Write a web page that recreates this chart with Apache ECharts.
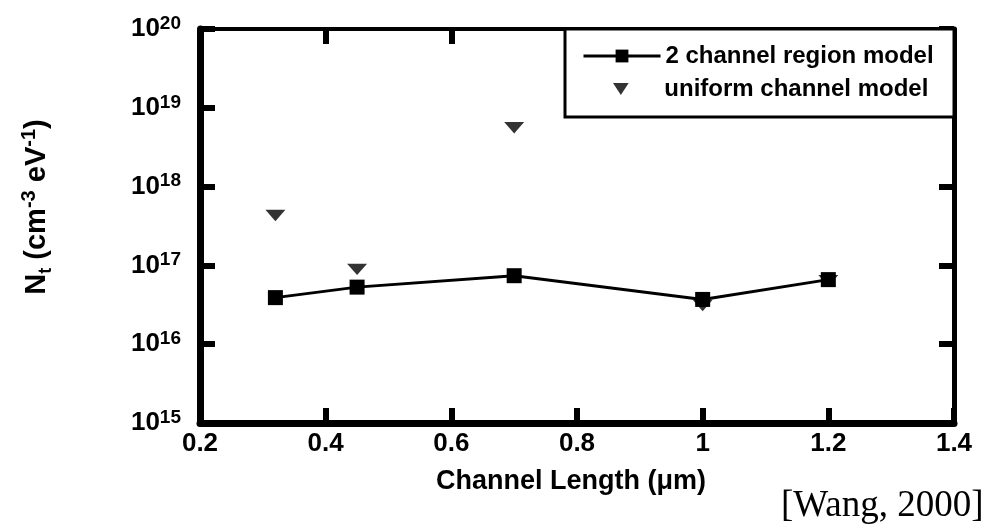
<!DOCTYPE html>
<html><head><meta charset="utf-8">
<script src="https://cdn.jsdelivr.net/npm/echarts@6/dist/echarts.min.js"></script>
<style>html,body{margin:0;padding:0;background:#fff}#c{width:992px;height:528px}</style>
</head><body><div id="c"></div>
<script>
// ---- data ----
const channelLength = [0.32, 0.45, 0.70, 1.0, 1.2];
const twoRegionModel = [3.9e16, 5.3e16, 7.4e16, 3.7e16, 6.6e16];
const uniformModel = [4.3e17, 8.9e16, 5.6e18, 3.1e16, 6.4e16];
const xTickLabels = ['0.2', '0.4', '0.6', '0.8', '1', '1.2', '1.4'];
const yTickExponents = ['15', '16', '17', '18', '19', '20'];
const seriesNames = ['2 channel region model', 'uniform channel model'];
const xTitle = 'Channel Length (\u03bcm)';
const sourceNote = '[Wang, 2000]';

const FONT = '"Liberation Sans", Arial, sans-serif';
const triPath = 'path://M0,0 L17,0 L8.5,13 Z';

const xMin = 0.2, xMax = 1.4, xStep = 0.2;
function xLabel(v) {
  const i = Math.round((v - xMin) / xStep);
  return xTickLabels[i] !== undefined ? xTickLabels[i] : '';
}
function yLabel(v) {
  const e = String(Math.round(Math.log10(v)));
  return yTickExponents.indexOf(e) >= 0 ? '{b|10}{s|' + e + '}' : '';
}

const axisCommon = {
  axisLine: { show: true, lineStyle: { color: '#000', width: 7 } },
  axisTick: { show: true, inside: true, length: 15, lineStyle: { color: '#000', width: 6 } },
  splitLine: { show: false }
};

const chart = echarts.init(document.getElementById('c'), null, { renderer: 'canvas' });
chart.setOption({
  animation: false,
  backgroundColor: '#fff',
  grid: { left: 200, right: 38, top: 29, bottom: 105, containLabel: false },
  title: {
    text: sourceNote, left: 776, top: 483,
    textStyle: { fontFamily: '"Liberation Serif", "Times New Roman", serif', fontSize: 37, fontWeight: 'normal', color: '#000' }
  },
  xAxis: [
    Object.assign({}, axisCommon, {
      type: 'value', min: xMin, max: xMax, interval: xStep, position: 'bottom',
      axisLabel: { formatter: xLabel, margin: 8, fontFamily: FONT, fontSize: 26, fontWeight: 'bold', color: '#000' },
      name: xTitle, nameLocation: 'middle', nameGap: 45,
      nameTextStyle: { fontFamily: FONT, fontSize: 27, fontWeight: 'bold', color: '#000', padding: [0, 12, 0, 0] }
    }),
    Object.assign({}, axisCommon, {
      type: 'value', min: xMin, max: xMax, interval: xStep, position: 'top',
      axisLine: { show: true, lineStyle: { color: '#000', width: 4 } },
      axisLabel: { show: false }
    })
  ],
  yAxis: [
    Object.assign({}, axisCommon, {
      type: 'log', logBase: 10, min: 1e15, max: 1e20, position: 'left',
      axisLabel: {
        formatter: yLabel, margin: 19, color: '#000',
        rich: {
          b: { fontFamily: FONT, fontSize: 26, fontWeight: 'bold', color: '#000', lineHeight: 30 },
          s: { fontFamily: FONT, fontSize: 19, fontWeight: 'bold', color: '#000', lineHeight: 14, verticalAlign: 'top' }
        }
      },
      name: '{b|N}{sub|t}{b| (cm}{sup|-3}{b| eV}{sup|-1}{b|)}',
      nameLocation: 'middle', nameRotate: 90, nameGap: 145,
      nameTextStyle: {
        padding: [0, 0, 0, 38],
        rich: {
          b: { fontFamily: FONT, fontSize: 29, fontWeight: 'bold', color: '#000', lineHeight: 36 },
          sub: { fontFamily: FONT, fontSize: 18, fontWeight: 'bold', color: '#000', lineHeight: 14, verticalAlign: 'bottom' },
          sup: { fontFamily: FONT, fontSize: 20, fontWeight: 'bold', color: '#000', lineHeight: 16, verticalAlign: 'top' }
        }
      }
    }),
    Object.assign({}, axisCommon, {
      type: 'log', logBase: 10, min: 1e15, max: 1e20, position: 'right',
      axisLine: { show: true, lineStyle: { color: '#000', width: 5 } },
      axisLabel: { show: false }
    })
  ],
  graphic: [{
    type: 'rect', z: 3,
    shape: { x: 565, y: 29, width: 389, height: 88 },
    style: { fill: '#fff', stroke: '#000', lineWidth: 3 }
  }],
  legend: [
    {
      z: 10, data: [seriesNames[0]], left: 582, top: 44, padding: 0, orient: 'vertical',
      itemWidth: 77, itemHeight: 16, lineStyle: { width: 3 },
      textStyle: { fontFamily: FONT, fontSize: 24, fontWeight: 'bold', color: '#000' }
    },
    {
      z: 10, data: [seriesNames[1]], left: 613, top: 77, padding: 0, orient: 'vertical',
      itemWidth: 77, itemHeight: 12,
      textStyle: { fontFamily: FONT, fontSize: 24, fontWeight: 'bold', color: '#000' }
    }
  ],
  series: [
    {
      name: seriesNames[0], type: 'line',
      data: channelLength.map((x, i) => [x, twoRegionModel[i]]),
      symbol: 'rect', symbolSize: 15,
      lineStyle: { color: '#000', width: 3 },
      itemStyle: { color: '#000' }, z: 4
    },
    {
      name: seriesNames[1], type: 'scatter',
      data: channelLength.map((x, i) => [x, uniformModel[i]]),
      symbol: triPath, symbolSize: [20, 15], symbolKeepAspect: true,
      itemStyle: { color: '#000' }, z: 3
    }
  ]
});
</script></body></html>
